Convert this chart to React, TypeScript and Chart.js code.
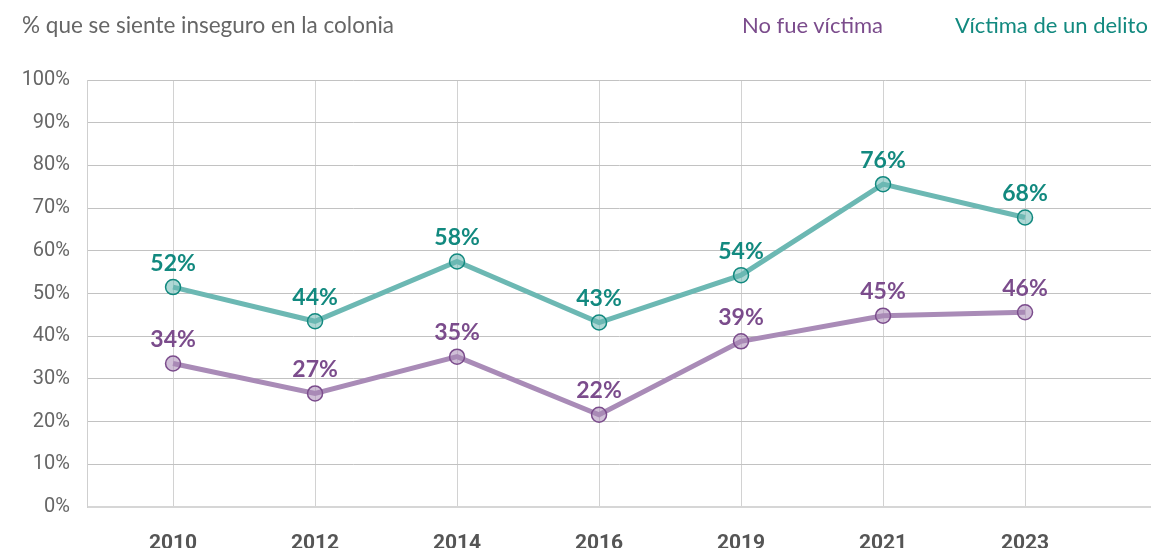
import React, { useEffect, useRef } from "react";
import { Chart, registerables } from "chart.js";

Chart.register(...registerables);

const categories = ["2010", "2012", "2014", "2016", "2019", "2021", "2023"];
const victimaValues = [51.5, 43.5, 57.5, 43.2, 54.3, 75.6, 67.8];
const noVictimaValues = [33.6, 26.6, 35.2, 21.6, 38.8, 44.8, 45.6];
const yTicks = [0, 10, 20, 30, 40, 50, 60, 70, 80, 90, 100];

const TEAL_LINE = "#6cb8b3";
const TEAL_DARK = "#12897f";
const PURPLE_LINE = "#a98bb7";
const PURPLE_DARK = "#7b4c8c";

const labelPlugin = {
  id: "pointLabels",
  afterDatasetsDraw(chart: any) {
    const ctx = chart.ctx;
    ctx.save();
    ctx.font = "bold 23px Lato";
    ctx.textAlign = "center";
    ctx.textBaseline = "middle";
    chart.data.datasets.forEach((ds: any, di: number) => {
      const meta = chart.getDatasetMeta(di);
      ctx.fillStyle = ds.labelColor;
      meta.data.forEach((el: any, i: number) => {
        const v = ds.data[i].y;
        ctx.fillText(Math.round(v) + "%", el.x, el.y - 24);
      });
    });
    ctx.restore();
  },
};

export default function App() {
  const ref = useRef<HTMLCanvasElement | null>(null);

  useEffect(() => {
    document.body.style.margin = "0";
    if (!ref.current) return;
    const chart = new Chart(ref.current, {
      type: "line",
      data: {
        datasets: [
          {
            label: "Víctima de un delito",
            data: victimaValues.map((v, i) => ({ x: i, y: v })),
            borderColor: TEAL_LINE,
            borderWidth: 5,
            pointRadius: 7.5,
            pointHoverRadius: 7.5,
            pointBackgroundColor: "rgba(108,184,179,0.55)",
            pointBorderColor: TEAL_DARK,
            pointBorderWidth: 1.5,
            tension: 0,
            labelColor: TEAL_DARK,
          } as any,
          {
            label: "No fue víctima",
            data: noVictimaValues.map((v, i) => ({ x: i, y: v })),
            borderColor: PURPLE_LINE,
            borderWidth: 5,
            pointRadius: 7.5,
            pointHoverRadius: 7.5,
            pointBackgroundColor: "rgba(169,139,183,0.55)",
            pointBorderColor: PURPLE_DARK,
            pointBorderWidth: 1.5,
            tension: 0,
            labelColor: PURPLE_DARK,
          } as any,
        ],
      },
      options: {
        animation: false,
        responsive: false,
        maintainAspectRatio: false,
        layout: { autoPadding: false, padding: { top: 80, right: 0, left: 0, bottom: 0 } },
        plugins: {
          legend: { display: false },
          tooltip: { enabled: false },
          title: { display: false },
        },
        scales: {
          x: {
            type: "linear",
            min: -0.606,
            max: 6.887,
            afterBuildTicks: (scale: any) => {
              scale.ticks = categories.map((_, i) => ({ value: i }));
            },
            afterFit: (scale: any) => {
              scale.height = 41;
              scale.paddingLeft = 0;
              scale.paddingRight = 0;
            },
            ticks: {
              padding: 24,
              color: "#555555",
              font: { family: "Roboto", size: 21, weight: "bold" },
              callback: (v: any) => categories[v] ?? "",
              maxRotation: 0,
              autoSkip: false,
            },
            grid: { color: "#d2d2d2", lineWidth: 1, drawTicks: false },
            border: { display: false },
          },
          y: {
            min: 0,
            max: 100,
            afterBuildTicks: (scale: any) => {
              scale.ticks = yTicks.map((v) => ({ value: v }));
            },
            afterFit: (scale: any) => {
              scale.width = 87;
            },
            ticks: {
              padding: 17,
              color: "#666666",
              font: { family: "Roboto", size: 20 },
              callback: (v: any) => v + "%",
            },
            grid: {
              color: (c: any) => (c.tick && c.tick.value === 0 ? "#d6d6d6" : "#c2c2c2"),
              lineWidth: (c: any) => (c.tick && c.tick.value === 0 ? 2 : 1),
              drawTicks: false,
            },
            border: { display: true, color: "#cfcfcf", width: 1 },
          },
        },
      } as any,
      plugins: [labelPlugin],
    });
    return () => chart.destroy();
  }, []);

  const textStyle = {
    position: "absolute" as const,
    top: 11,
    fontFamily: "Lato",
    fontSize: 22,
    lineHeight: "28px",
    whiteSpace: "nowrap" as const,
  };

  return (
    <div style={{ position: "relative", width: 1151, height: 548, background: "#fff" }}>
      <canvas ref={ref} width={1151} height={548} style={{ position: "absolute", left: 0, top: 0, width: 1151, height: 548 }} />
      <div style={{ ...textStyle, left: 22, fontSize: 22.5, color: "#666666" }}>% que se siente inseguro en la colonia</div>
      <div style={{ ...textStyle, left: 742, color: PURPLE_DARK }}>No fue víctima</div>
      <div style={{ ...textStyle, left: 955, color: TEAL_DARK }}>Víctima de un delito</div>
    </div>
  );
}
